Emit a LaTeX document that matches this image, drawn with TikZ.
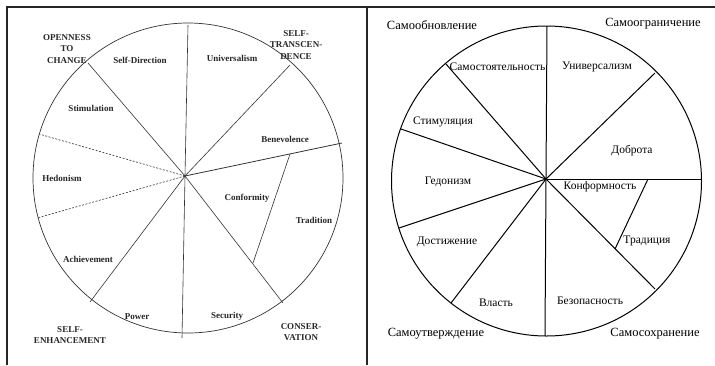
\documentclass[tikz,border=0pt]{standalone}
\usepackage{fontspec}
\setmainfont{Liberation Serif}
\begin{document}
\begin{tikzpicture}[x=1pt,y=-1pt,
  frame/.style={line width=1.2pt,black!85},
  lrim/.style={line width=0.7pt,black!80},
  lline/.style={line width=0.6pt,black!80},
  ldash/.style={line width=0.6pt,black!80,dash pattern=on 2pt off 1.5pt},
  llab/.style={font=\fontsize{9}{10}\selectfont\bfseries,inner sep=0pt,text=black!85},
  lhead/.style={font=\fontsize{9}{11.5}\selectfont\bfseries,inner sep=0pt,align=center,text=black!85},
  rrim/.style={line width=1pt},
  rline/.style={line width=1pt},
  rlab/.style={font=\fontsize{11.5}{13}\selectfont,inner sep=0pt},
  rhead/.style={font=\fontsize{12.5}{14}\selectfont,inner sep=0pt}]
\useasboundingbox (0,0) rectangle (715,365);
% frame
\draw[frame] (7,365) -- (7,7) -- (715,7);
\draw[frame] (367,7) -- (367,365);

% ---------------- left panel ----------------
\coordinate (LC) at (188,178);
\coordinate (LH) at (185,176);
\draw[lrim] (LC) circle[radius=155pt];
\coordinate (Ltop) at (188,25);
\coordinate (Lbot) at (182,338);
\coordinate (Lsd) at (88,63);
\coordinate (Lun) at (290,65);
\coordinate (Lbe) at (342,143);
\coordinate (Lct) at (290,154);
\coordinate (Lcb) at (253,263);
\coordinate (Lse) at (283,303);
\coordinate (Lpo) at (90,302);
\coordinate (Lh1) at (39,134);
\coordinate (Lh2) at (37,218);
\draw[lline] (Ltop) -- (LH) -- (Lbot);
\draw[lline] (LH) -- (Lsd);
\draw[lline] (LH) -- (Lun);
\draw[lline,line width=0.8pt] (LH) -- (Lbe);
\draw[lline] (Lct) -- (Lcb);
\draw[lline] (LH) -- (Lse);
\draw[lline] (LH) -- (Lpo);
\draw[ldash] (LH) -- (Lh1);
\draw[ldash] (LH) -- (Lh2);

\node[lhead] (Lopen) at (67,49) {OPENNESS\\TO\\CHANGE};
\node[lhead] (Ltrans) at (296,45) {SELF-\\TRANSCEN-\\DENCE};
\node[lhead] (Lenh) at (70,335) {SELF-\\ENHANCEMENT};
\node[lhead] (Lcons) at (301,332) {CONSER-\\VATION};

\node[llab] (Lsdl) at (140,60) {Self-Direction};
\node[llab] (Lunl) at (232,58) {Universalism};
\node[llab] (Lstl) at (91,108) {Stimulation};
\node[llab] (Lbel) at (285,139) {Benevolence};
\node[llab] (Lhel) at (62,178) {Hedonism};
\node[llab] (Lcol) at (247,198) {Conformity};
\node[llab] (Ltrl) at (314,220) {Tradition};
\node[llab] (Lacl) at (88,259) {Achievement};
\node[llab] (Lpol) at (137,317) {Power};
\node[llab] (Lsel) at (227,316) {Security};

% ---------------- right panel ----------------
\coordinate (RC) at (546.5,181);
\coordinate (RH) at (546,179);
\draw[rrim] (RC) circle[radius=155pt];
\coordinate (Rtop) at (547,26);
\coordinate (Rbot) at (545,336);
\coordinate (Rsa) at (446,64);
\coordinate (Rst) at (401,129);
\coordinate (Rge) at (399,228);
\coordinate (Rdo) at (451,303);
\coordinate (Run) at (655,73);
\coordinate (Rdb) at (701,179);
\coordinate (Rkt) at (648,179);
\coordinate (Rkb) at (615,249);
\coordinate (Rbe) at (655,289);
\draw[rline] (Rtop) -- (RH) -- (Rbot);
\draw[rline] (RH) -- (Rsa);
\draw[rline] (RH) -- (Rst);
\draw[rline] (RH) -- (Rge);
\draw[rline] (RH) -- (Rdo);
\draw[rline] (RH) -- (Run);
\draw[rline] (RH) -- (Rdb);
\draw[rline] (Rkt) -- (Rkb);
\draw[rline] (RH) -- (Rbe);
\fill (RH) circle[radius=1.5pt];

\node[rhead] (Rh1) at (432,25) {Самообновление};
\node[rhead] (Rh2) at (653,24) {Самоограничение};
\node[rhead] (Rh3) at (436,334) {Самоутверждение};
\node[rhead] (Rh4) at (655,334) {Самосохранение};

\node[rlab] (Rl1) at (497.5,67) {Самостоятельность};
\node[rlab] (Rl2) at (597,67) {Универсализм};
\node[rlab] (Rl3) at (443,122) {Стимуляция};
\node[rlab] (Rl4) at (632,151) {Доброта};
\node[rlab] (Rl5) at (448,182) {Гедонизм};
\node[rlab] (Rl6) at (600,187) {Конформность};
\node[rlab] (Rl7) at (647,241) {Традиция};
\node[rlab] (Rl8) at (447,242) {Достижение};
\node[rlab] (Rl9) at (496,303) {Власть};
\node[rlab] (Rl10) at (590,301) {Безопасность};
\end{tikzpicture}
\end{document}
